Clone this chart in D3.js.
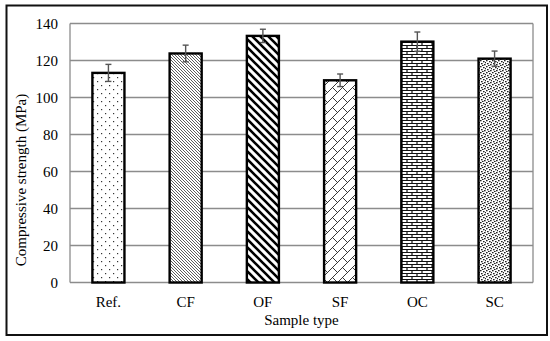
<!DOCTYPE html>
<html>
<head>
<meta charset="utf-8">
<script src="https://cdn.jsdelivr.net/npm/d3@7"></script>
<style>
  html, body { margin: 0; padding: 0; background: #fff; }
</style>
</head>
<body>
<div id="chart"></div>
<script>
// compressive strength per sample type
const categories = ["Ref.", "CF", "OF", "SF", "OC", "SC"];
const strength = [113.3, 123.8, 133.3, 109.3, 130.2, 121.0];
const errors = [4.6, 4.5, 3.6, 3.4, 5.2, 4.1];
const yTicks = [0, 20, 40, 60, 80, 100, 120, 140];
const patternIds = ["pDots", "pFine", "pWide", "pDiagBrick", "pBrick", "pConfetti"];

const width = 550, height = 341;
const margin = { top: 23.5, right: 17, bottom: 58, left: 70 };
const serif = "'Liberation Serif', 'Times New Roman', 'DejaVu Serif', serif";

const svg = d3.select("#chart").append("svg")
    .attr("width", width)
    .attr("height", height)
    .attr("font-family", serif)
    .style("font-family", serif);

const defs = svg.append("defs");

// Ref. - sparse dots
let p = defs.append("pattern").attr("id", "pDots").attr("patternUnits", "userSpaceOnUse")
    .attr("width", 8).attr("height", 8);
p.append("rect").attr("width", 8).attr("height", 8).attr("fill", "#fff");
p.append("rect").attr("x", 1).attr("y", 1).attr("width", 1.2).attr("height", 1.2).attr("fill", "#333");
p.append("rect").attr("x", 5).attr("y", 5).attr("width", 1.2).attr("height", 1.2).attr("fill", "#333");

// CF - fine downward diagonal
p = defs.append("pattern").attr("id", "pFine").attr("patternUnits", "userSpaceOnUse")
    .attr("width", 3).attr("height", 3);
p.append("rect").attr("width", 3).attr("height", 3).attr("fill", "#fff");
p.append("path").attr("d", "M-1,-1 L4,4 M-1,2 L1,4 M2,-1 L4,1").attr("stroke", "#333").attr("stroke-width", 0.8);

// OF - wide downward diagonal
p = defs.append("pattern").attr("id", "pWide").attr("patternUnits", "userSpaceOnUse")
    .attr("width", 8).attr("height", 8);
p.append("rect").attr("width", 8).attr("height", 8).attr("fill", "#fff");
p.append("path").attr("d", "M-2,-2 L10,10 M-2,6 L2,10 M6,-2 L10,2").attr("stroke", "#000").attr("stroke-width", 2.6);

// SF - diagonal brick
p = defs.append("pattern").attr("id", "pDiagBrick").attr("patternUnits", "userSpaceOnUse")
    .attr("width", 10).attr("height", 10);
p.append("rect").attr("width", 10).attr("height", 10).attr("fill", "#fff");
p.append("path").attr("d", "M0,10 L10,0 M-1,1 L1,-1 M9,11 L11,9 M2.5,7.5 L7.5,12.5 M7.5,2.5 L2.5,-2.5")
    .attr("stroke", "#222").attr("stroke-width", 0.9).attr("fill", "none");

// OC - horizontal brick
p = defs.append("pattern").attr("id", "pBrick").attr("patternUnits", "userSpaceOnUse")
    .attr("width", 10).attr("height", 6);
p.append("rect").attr("width", 10).attr("height", 6).attr("fill", "#fff");
p.append("path").attr("d", "M0,0.5 H10 M0,3.5 H10 M2,0.5 V3.5 M7,3.5 V6.5")
    .attr("stroke", "#111").attr("stroke-width", 1.2).attr("fill", "none");

// SC - dense confetti
p = defs.append("pattern").attr("id", "pConfetti").attr("patternUnits", "userSpaceOnUse")
    .attr("width", 6).attr("height", 6);
p.append("rect").attr("width", 6).attr("height", 6).attr("fill", "#fff");
[[0, 0], [3, 1], [1, 3], [4, 4], [5, 2], [2, 5]].forEach(([x, y]) => {
  p.append("rect").attr("x", x).attr("y", y).attr("width", 1.6).attr("height", 1.3).attr("fill", "#222");
});

// outer frame
svg.append("rect")
    .attr("x", 6.5).attr("y", 5.5)
    .attr("width", 540.5).attr("height", 329.5)
    .attr("fill", "none").attr("stroke", "#111").attr("stroke-width", 2);

const x = d3.scaleBand()
    .domain(categories)
    .range([margin.left, width - margin.right])
    .paddingInner(0.585)
    .paddingOuter(0.29);

const y = d3.scaleLinear()
    .domain([0, 140])
    .range([height - margin.bottom - 0.5, margin.top]);

// gridlines
svg.append("g").selectAll("line")
    .data(yTicks)
    .join("line")
    .attr("x1", margin.left).attr("x2", width - margin.right)
    .attr("y1", d => y(d)).attr("y2", d => y(d))
    .attr("stroke", "#8c8c8c").attr("stroke-width", 1.3);

// plot frame sides
svg.append("line")
    .attr("x1", margin.left).attr("x2", margin.left)
    .attr("y1", y(0)).attr("y2", y(140))
    .attr("stroke", "#8c8c8c").attr("stroke-width", 1.3);
svg.append("line")
    .attr("x1", width - margin.right).attr("x2", width - margin.right)
    .attr("y1", y(0)).attr("y2", y(140))
    .attr("stroke", "#8c8c8c").attr("stroke-width", 1.3);

// y tick labels
svg.append("g").selectAll("text")
    .data(yTicks)
    .join("text")
    .attr("x", 58)
    .attr("y", d => y(d))
    .attr("dy", "0.35em")
    .attr("text-anchor", "end")
    .attr("font-size", 15)
    .text(d => d);

// bars
svg.append("g").selectAll("rect")
    .data(categories)
    .join("rect")
    .attr("x", d => x(d))
    .attr("y", (d, i) => y(strength[i]))
    .attr("width", x.bandwidth())
    .attr("height", (d, i) => y(0) - y(strength[i]))
    .attr("fill", (d, i) => `url(#${patternIds[i]})`)
    .attr("stroke", "#000")
    .attr("stroke-width", 2.4);

// error bars
const eb = svg.append("g").attr("stroke", "#555").attr("stroke-width", 1.4);
categories.forEach((c, i) => {
  const cx = x(c) + x.bandwidth() / 2;
  const top = y(strength[i] + errors[i]);
  const bot = y(strength[i] - errors[i]);
  eb.append("line").attr("x1", cx).attr("x2", cx).attr("y1", top).attr("y2", bot);
  eb.append("line").attr("x1", cx - 3).attr("x2", cx + 3).attr("y1", top).attr("y2", top);
  eb.append("line").attr("x1", cx - 3).attr("x2", cx + 3).attr("y1", bot).attr("y2", bot);
});

// x labels
svg.append("g").selectAll("text")
    .data(categories)
    .join("text")
    .attr("x", d => x(d) + x.bandwidth() / 2)
    .attr("y", 306.5)
    .attr("text-anchor", "middle")
    .attr("font-size", 15)
    .text(d => d);

// axis titles
svg.append("text")
    .attr("x", (margin.left + width - margin.right) / 2)
    .attr("y", 324.5)
    .attr("text-anchor", "middle")
    .attr("font-size", 15)
    .text("Sample type");

svg.append("text")
    .attr("transform", "translate(26,180) rotate(-90)")
    .attr("text-anchor", "middle")
    .attr("font-size", 15)
    .text("Compressive strength (MPa)");
</script>
</body>
</html>
